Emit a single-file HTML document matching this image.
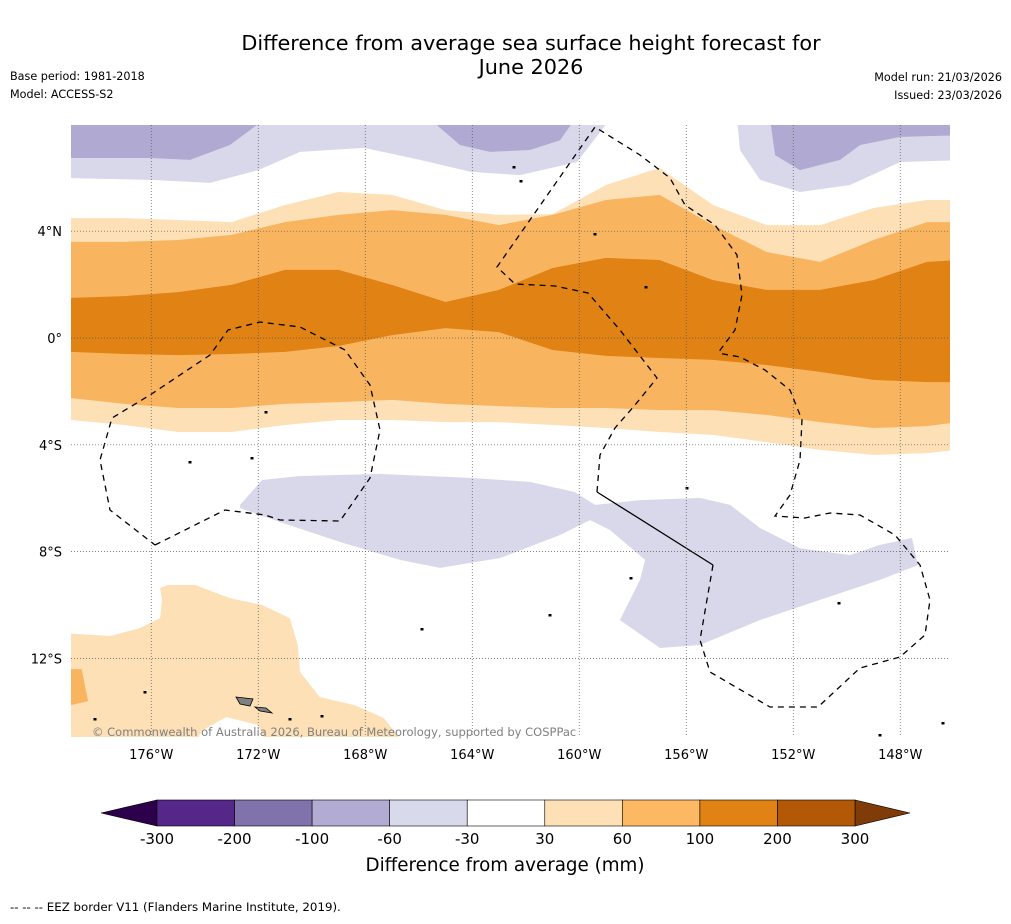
<!DOCTYPE html>
<html><head><meta charset="utf-8">
<style>
body{margin:0;background:#fff;font-family:"Liberation Sans","DejaVu Sans",sans-serif;}
svg text{font-family:"DejaVu Sans","Liberation Sans",sans-serif;}
</style></head>
<body>
<svg id="chart" width="1011" height="919" viewBox="0 0 1011 919" xmlns="http://www.w3.org/2000/svg">
<rect width="1011" height="919" fill="#fff"/>
<text x="531" y="50" font-size="20.8" text-anchor="middle">Difference from average sea surface height forecast for</text>
<text x="531" y="74" font-size="20.8" text-anchor="middle">June 2026</text>
<text x="10" y="80" font-size="11.2">Base period: 1981-2018</text>
<text x="10" y="98" font-size="11.2">Model: ACCESS-S2</text>
<text x="1002" y="81" font-size="11.2" text-anchor="end">Model run: 21/03/2026</text>
<text x="1002" y="99" font-size="11.2" text-anchor="end">Issued: 23/03/2026</text>
<defs><clipPath id="mapclip"><rect x="71" y="125" width="879" height="612"/></clipPath></defs>
<g id="map" clip-path="url(#mapclip)"></g>
<g id="axes"></g>
<text x="92" y="736" font-size="11.5" fill="#808080">© Commonwealth of Australia 2026, Bureau of Meteorology, supported by COSPPac</text>
<g id="cbar"></g>
<text x="505" y="871" font-size="18.3" text-anchor="middle">Difference from average (mm)</text>
<text x="10" y="911" font-size="11.8">--  --  -- EEZ border V11 (Flanders Marine Institute, 2019).</text>
</svg>
<script>
const lons=[-179,-177,-175,-173,-171,-169,-167,-165,-163,-161,-159,-157,-155,-153,-151,-149,-147,-145.86];
const b30top=[4.49,4.49,4.42,4.34,4.98,5.47,5.36,4.79,4.61,4.64,5.73,6.37,4.98,4.23,4.23,4.87,5.17,5.17];
const b60top=[3.6,3.6,3.67,3.86,4.34,4.61,4.79,4.61,4.23,4.61,5.17,5.36,4.23,3.22,2.85,3.67,4.34,4.34];
const b100top=[1.5,1.57,1.72,1.99,2.55,2.55,1.99,1.35,1.8,2.62,3.0,2.92,2.17,1.8,1.8,2.17,2.85,2.92];
const b100bot=[-0.52,-0.6,-0.64,-0.6,-0.52,-0.3,0.11,0.37,0.22,-0.45,-0.67,-0.75,-0.82,-1.01,-1.27,-1.57,-1.65,-1.65];
const b60bot=[-2.25,-2.47,-2.62,-2.62,-2.47,-2.4,-2.32,-2.47,-2.55,-2.62,-2.62,-2.7,-2.7,-2.88,-3.15,-3.37,-3.3,-3.15];
const b30bot=[-3.07,-3.26,-3.52,-3.52,-3.26,-3.07,-3.07,-3.15,-3.15,-3.26,-3.37,-3.52,-3.63,-3.9,-4.19,-4.38,-4.31,-4.19];
const lavTopLeft=[[-179,8.2],[-158.85,8.2],[-160.08,6.59],[-162.22,6.1],[-164.05,6.22],[-165.95,6.67],[-168.05,7.12],[-170.44,6.97],[-172,6.29],[-173.8,5.81],[-176,5.92],[-179,5.99]];
const purTopLeft=[[-179,8.2],[-171.75,8.2],[-173.06,7.23],[-174.55,6.67],[-176,6.74],[-179,6.74]];
const purTopMid=[[-165.58,8.2],[-164.46,7.23],[-163.34,6.97],[-161.84,7.04],[-160.72,7.41],[-160.16,8.2]];
const lavTopRight=[[-154.1,8.2],[-153.99,7.04],[-153.24,5.92],[-151.75,5.47],[-149.88,5.73],[-148,6.59],[-145.5,6.67],[-145.5,8.2]];
const purTopRight=[[-152.87,8.2],[-145.5,8.2],[-145.5,7.6],[-148,7.53],[-149.5,7.23],[-150.25,6.67],[-151.75,6.29],[-152.68,6.85]];
const lavSouth=[[-172.68,-6.25],[-171.86,-5.32],[-170.44,-5.17],[-167.45,-5.09],[-164.08,-5.24],[-161.84,-5.39],[-160.16,-5.77],[-159.41,-6.25],[-157.73,-6.07],[-155.49,-5.99],[-154.36,-6.25],[-153.24,-7.12],[-151.75,-7.87],[-149.88,-8.13],[-148.76,-7.75],[-147.56,-7.49],[-147.34,-8.5],[-148.76,-9.06],[-151.0,-9.81],[-153.24,-10.56],[-155.49,-11.5],[-156.98,-11.61],[-158.48,-10.56],[-157.73,-9.06],[-157.54,-8.31],[-158.85,-7.19],[-159.6,-6.82],[-160.72,-7.38],[-162.96,-8.24],[-165.21,-8.61],[-166.7,-8.31],[-168.94,-7.64],[-171.19,-6.89],[-172.68,-6.37]];
const ltOrangeSW=[[-179,-11.07],[-177.54,-11.16],[-176.42,-10.86],[-175.67,-10.49],[-175.6,-9.81],[-175.67,-9.36],[-175.37,-9.25],[-174.36,-9.25],[-173.06,-9.74],[-171.86,-10.0],[-170.82,-10.49],[-170.52,-11.5],[-170.44,-12.51],[-169.7,-13.45],[-168.4,-13.75],[-167.3,-14.24],[-166.55,-15.2],[-171.7,-15.2],[-172.0,-14.5],[-173.2,-14.2],[-174.1,-14.7],[-174.4,-15.2],[-179,-15.2]];
const orangeSW=[[-179,-12.4],[-178.6,-12.4],[-178.36,-13.6],[-179,-13.75]];
const gridLons=[-176,-172,-168,-164,-160,-156,-152,-148];
const gridLats=[4,0,-4,-8,-12];
const cbColors=["#542788","#8073ac","#b2abd2","#d8daeb","#ffffff","#fee0b6","#fdb863","#e08214","#b35806"];
const cbLabels=["-300","-200","-100","-60","-30","30","60","100","200","300"];
const NS="http://www.w3.org/2000/svg";
const X=lon=>71+(lon+179)*26.75;
const Y=lat=>338-lat*26.7;
function mk(tag,attrs,parent){const e=document.createElementNS(NS,tag);for(const k in attrs)e.setAttribute(k,attrs[k]);parent.appendChild(e);return e;}
const map=document.getElementById('map');
function poly(pts,fill,name){const p=mk('polygon',{points:pts.map(q=>X(q[0]).toFixed(1)+','+Y(q[1]).toFixed(1)).join(' '),fill:fill},map);

}
function band(top,bot,fill,name){const pts=[];lons.forEach((l,i)=>pts.push([l,top[i]]));for(let i=lons.length-1;i>=0;i--)pts.push([lons[i],bot[i]]);poly(pts,fill,name);}
band(b30top,b30bot,"#fde0b6","band-30-60");
band(b60top,b60bot,"#f9b460","band-60-100");
band(b100top,b100bot,"#e08214","band-100-200");
poly(lavTopLeft,"#d8d8ea","band-neg30-neg60-north-west");
poly(purTopLeft,"#b0a9d1","band-neg60-neg100-north-west");
poly(purTopMid,"#b0a9d1","band-neg60-neg100-north-mid");
poly(lavTopRight,"#d8d8ea","band-neg30-neg60-north-east");
poly(purTopRight,"#b0a9d1","band-neg60-neg100-north-east");
poly(lavSouth,"#d8d8ea","band-neg30-neg60-south");
poly(ltOrangeSW,"#fde0b6","band-30-60-south-west");
poly(orangeSW,"#f9b460","band-60-100-south-west");
[[236,697,253,699,250,706,240,704],[255,707,266,708,272,713,260,711]].forEach(s=>{const p=mk('polygon',{points:s.join(' '),fill:'#808080',stroke:'#000','stroke-width':0.8},map);

});
[[145,692],[95,719],[290,719],[322,716],[266,412],[190,462],[252,458],[595,234],[646,287],[687,488],[631,578],[550,615],[422,629],[839,603],[880,735],[943,723],[521,181],[514,167]].forEach(d=>{const c=mk('rect',{x:d[0]-1.5,y:d[1]-1,width:3,height:2.5,fill:'#000'},map);

});
const eez=[
"155,545 225,510 265,515 280,520 340,521 370,478 380,430 370,385 345,350 300,327 260,322 228,330 210,355 150,395 112,418 100,460 110,510 155,545",
"597,492 600,455 615,428 635,405 657,378 620,330 588,293 555,286 515,284 497,267 595,127 640,155 670,178 685,205 715,225 737,255 742,295 735,330 718,353",
"713,565 700,640 710,672 770,707 818,707 860,668 900,657 925,635 930,600 920,565 895,535 860,515 830,513 805,518 775,516 790,495 800,460 802,420 790,390 765,370 740,357 718,353"];
eez.forEach(s=>{const p=mk('polyline',{points:s,fill:'none',stroke:'#000','stroke-width':1.3,'stroke-dasharray':'6,5'},map);

});
const sl=mk('line',{x1:597,y1:492,x2:713,y2:565,stroke:'#000','stroke-width':1.3},map);


const ax=document.getElementById('axes');
gridLons.forEach(l=>{const g=mk('line',{x1:X(l),x2:X(l),y1:125,y2:737,stroke:'#555','stroke-width':0.7,'stroke-dasharray':'1,2'},map);


const t=mk('text',{x:X(l),y:759,'font-size':13,'text-anchor':'middle'},ax);t.textContent=Math.abs(l)+'°W';

});
gridLats.forEach(l=>{const g=mk('line',{x1:71,x2:950,y1:Y(l),y2:Y(l),stroke:'#555','stroke-width':0.7,'stroke-dasharray':'1,2'},map);


const t=mk('text',{x:62,y:Y(l)+5,'font-size':13,'text-anchor':'end'},ax);t.textContent=l===0?'0°':Math.abs(l)+'°'+(l>0?'N':'S');

});
const cb=document.getElementById('cbar');
const x0=157,x1=855,w=(x1-x0)/cbColors.length;
const lt=mk('polygon',{points:`101,813 ${x0},800 ${x0},826`,fill:'#2d004b',stroke:'#000','stroke-width':0.6},cb);


const rt=mk('polygon',{points:`910,813 ${x1},800 ${x1},826`,fill:'#7f3b08',stroke:'#000','stroke-width':0.6},cb);


cbColors.forEach((c,i)=>{const r=mk('rect',{x:x0+i*w,y:800,width:w,height:26,fill:c,stroke:'#000','stroke-width':0.6},cb);

});
cbLabels.forEach((s,i)=>{const t=mk('text',{x:x0+i*w,y:844,'font-size':15,'text-anchor':'middle'},cb);t.textContent=s;

});
</script>
</body></html>
